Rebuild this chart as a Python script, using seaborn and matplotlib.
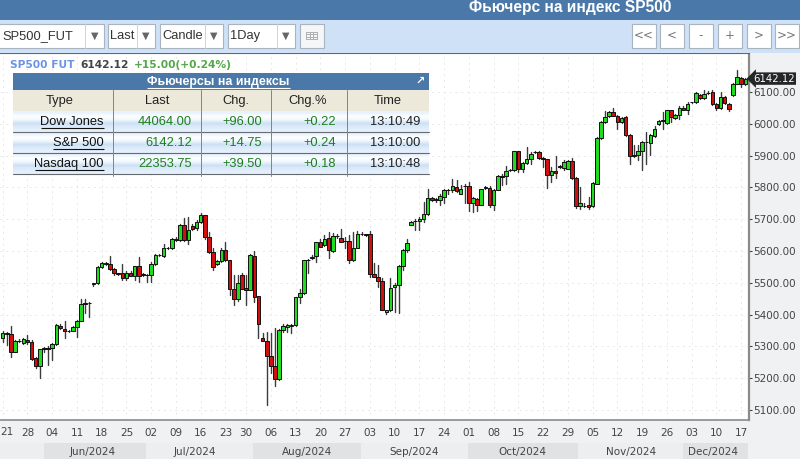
import numpy as np
import pandas as pd
import matplotlib
matplotlib.use("Agg")
import matplotlib.pyplot as plt
from matplotlib.patches import Rectangle
import seaborn as sns

# daily bars, one row of ten per line
opens = [5328, 5341, 5339, 5283, 5318, 5312, 5320, 5315, 5262, 5238,
         5294, 5295, 5294, 5307, 5365, 5356, 5350, 5349, 5362, 5381,
         5435, 5436, 5497, 5498, 5550, 5560, 5558, 5543, 5530, 5532,
         5516, 5531, 5521, 5552, 5529, 5526, 5526, 5558, 5587, 5585,
         5611, 5610, 5636, 5634, 5681, 5636, 5679, 5671, 5691, 5712,
         5644, 5597, 5558, 5569, 5602, 5571, 5482, 5449, 5524, 5484,
         5477, 5585, 5458, 5325, 5318, 5270, 5238, 5197, 5352, 5362,
         5364, 5366, 5454, 5468, 5572, 5578, 5584, 5627, 5618, 5641,
         5601, 5647, 5642, 5631, 5631, 5571, 5611, 5655, 5652, 5653,
         5529, 5519, 5506, 5408, 5414, 5486, 5493, 5552, 5602, 5683,
         5693, 5694, 5702, 5717, 5767, 5761, 5761, 5770, 5791, 5791,
         5801, 5780, 5803, 5804, 5751, 5763, 5746, 5799, 5799, 5744,
         5793, 5835, 5835, 5855, 5854, 5913, 5859, 5877, 5890, 5911,
         5911, 5893, 5888, 5840, 5850, 5866, 5861, 5859, 5882, 5830,
         5741, 5741, 5744, 5741, 5812, 5955, 6005, 6024, 6037, 6026,
         6005, 6021, 5966, 5900, 5901, 5914, 5942, 5939, 5961, 5998,
         6010, 6002, 6042, 6019, 6028, 6050, 6044, 6068, 6067, 6092,
         6082, 6097, 6099, 6061, 6050, 6084, 6063, 6089, 6126, 6143,
         6124]
highs = [5347, 5345, 5364, 5320, 5322, 5326, 5335, 5319, 5268, 5293,
         5299, 5300, 5310, 5370, 5370, 5380, 5353, 5365, 5384, 5450,
         5448, 5440, 5500, 5552, 5566, 5565, 5585, 5545, 5532, 5558,
         5537, 5536, 5553, 5581, 5532, 5529, 5566, 5591, 5590, 5623,
         5614, 5641, 5644, 5684, 5704, 5707, 5686, 5697, 5721, 5713,
         5660, 5608, 5571, 5610, 5627, 5573, 5526, 5524, 5532, 5526,
         5590, 5599, 5460, 5341, 5346, 5341, 5357, 5354, 5369, 5372,
         5372, 5456, 5482, 5573, 5575, 5589, 5629, 5639, 5650, 5660,
         5658, 5652, 5668, 5644, 5650, 5660, 5662, 5660, 5655, 5663,
         5561, 5555, 5514, 5416, 5514, 5498, 5555, 5605, 5639, 5694,
         5700, 5707, 5754, 5796, 5770, 5766, 5778, 5796, 5796, 5827,
         5822, 5807, 5810, 5817, 5770, 5768, 5796, 5804, 5804, 5796,
         5838, 5841, 5866, 5859, 5916, 5916, 5880, 5927, 5911, 5915,
         5913, 5895, 5890, 5864, 5899, 5871, 5885, 5885, 5893, 5833,
         5801, 5751, 5770, 5817, 5958, 6008, 6040, 6040, 6050, 6028,
         6021, 6024, 5969, 5932, 5932, 5946, 5974, 5968, 5992, 6011,
         6037, 6044, 6044, 6031, 6056, 6056, 6068, 6070, 6099, 6094,
         6107, 6104, 6107, 6066, 6099, 6086, 6066, 6129, 6168, 6147,
         6145]
lows = [5315, 5304, 5268, 5282, 5314, 5309, 5309, 5258, 5232, 5200,
        5283, 5243, 5257, 5305, 5355, 5325, 5346, 5347, 5330, 5379,
        5405, 5393, 5490, 5495, 5548, 5556, 5540, 5526, 5525, 5508,
        5508, 5520, 5508, 5501, 5520, 5501, 5501, 5555, 5584, 5581,
        5607, 5607, 5631, 5632, 5632, 5623, 5665, 5665, 5689, 5639,
        5594, 5540, 5555, 5566, 5569, 5463, 5430, 5443, 5480, 5430,
        5476, 5440, 5327, 5318, 5116, 5215, 5176, 5194, 5346, 5344,
        5341, 5364, 5435, 5466, 5532, 5576, 5564, 5612, 5616, 5579,
        5597, 5642, 5627, 5608, 5561, 5569, 5608, 5650, 5646, 5518,
        5517, 5487, 5414, 5402, 5412, 5409, 5406, 5540, 5597, 5681,
        5667, 5667, 5691, 5712, 5757, 5754, 5744, 5752, 5778, 5786,
        5786, 5780, 5752, 5726, 5723, 5726, 5744, 5794, 5739, 5728,
        5791, 5807, 5812, 5851, 5851, 5848, 5848, 5874, 5874, 5908,
        5890, 5864, 5798, 5817, 5831, 5861, 5854, 5857, 5827, 5736,
        5733, 5738, 5733, 5738, 5810, 5953, 6003, 6021, 6024, 5985,
        6003, 5961, 5872, 5897, 5885, 5854, 5875, 5901, 5958, 5997,
        5984, 5998, 6005, 6016, 6016, 6042, 6032, 6065, 6066, 6079,
        6079, 6095, 6058, 6042, 6045, 6063, 6040, 6086, 6125, 6115,
        6122]
closes = [5341, 5340, 5283, 5318, 5317, 5322, 5315, 5260, 5238, 5291,
          5293, 5293, 5307, 5367, 5357, 5349, 5349, 5362, 5381, 5432,
          5434, 5437, 5498, 5550, 5563, 5561, 5543, 5530, 5529, 5516,
          5531, 5521, 5552, 5521, 5524, 5525, 5560, 5587, 5586, 5611,
          5610, 5637, 5637, 5681, 5636, 5665, 5670, 5691, 5712, 5644,
          5597, 5550, 5569, 5602, 5571, 5482, 5449, 5498, 5482, 5477,
          5587, 5456, 5372, 5318, 5270, 5238, 5197, 5353, 5365, 5367,
          5366, 5454, 5468, 5571, 5573, 5580, 5627, 5613, 5639, 5602,
          5647, 5646, 5629, 5630, 5571, 5611, 5655, 5652, 5650, 5529,
          5519, 5506, 5416, 5415, 5485, 5493, 5552, 5602, 5625, 5691,
          5694, 5702, 5717, 5767, 5760, 5762, 5772, 5791, 5792, 5803,
          5789, 5796, 5804, 5752, 5767, 5746, 5794, 5800, 5744, 5793,
          5835, 5834, 5850, 5856, 5913, 5859, 5877, 5890, 5906, 5912,
          5893, 5888, 5838, 5850, 5845, 5865, 5880, 5882, 5830, 5741,
          5752, 5742, 5738, 5815, 5955, 6005, 6021, 6037, 6026, 6005,
          6019, 5966, 5899, 5901, 5916, 5943, 5943, 5964, 5984, 6008,
          6011, 6042, 6021, 6029, 6049, 6044, 6063, 6067, 6096, 6082,
          6094, 6098, 6061, 6050, 6084, 6066, 6047, 6126, 6147, 6126,
          6142.12]

week_labels = ["21", "28", "04", "11", "18", "25", "02", "09", "16", "23", "30",
               "06", "13", "20", "27", "03", "10", "17", "24", "01", "08", "15",
               "22", "29", "05", "12", "19", "26", "03", "10", "17"]
# trading days between two week ticks, one short week around Jul/30
bars_per_week = [6, 6, 6, 6, 6, 6, 6, 6, 6, 5, 6, 6, 6, 6, 6,
                 6, 6, 6, 6, 6, 6, 6, 6, 6, 6, 6, 6, 6, 6, 6]
price_ticks = [5100, 5200, 5300, 5400, 5500, 5600, 5700, 5800, 5900, 6000, 6100]

months = ["Jun/2024", "Jul/2024", "Aug/2024", "Sep/2024", "Oct/2024", "Nov/2024", "Dec/2024"]

table_types = ["Dow Jones", "S&P 500", "Nasdaq 100"]
table_last = ["44064.00", "6142.12", "22353.75"]
table_chg = ["+96.00", "+14.75", "+39.50"]
table_pct = ["+0.22", "+0.24", "+0.18"]
table_time = ["13:10:49", "13:10:00", "13:10:48"]
table_header = ["Type", "Last", "Chg.", "Chg.%", "Time"]

selectors = ["SP500_FUT", "Last", "Candle", "1Day"]
nav_buttons = ["<<", "<", "-", "+", ">", ">>"]

W, H = 800, 461
BLUE = "#4a78a8"
SANS = "Liberation Sans"


def build_frames():
    df = pd.DataFrame({"open": opens, "high": highs, "low": lows, "close": closes})
    df["bar"] = np.arange(len(df))
    df["body_low"] = df[["open", "close"]].min(axis=1)
    df["body"] = (df["close"] - df["open"]).abs()
    wicks = df.melt(id_vars="bar", value_vars=["low", "high"], value_name="price")
    return df, wicks


def draw_candles(ax, df, wicks):
    sns.lineplot(data=wicks, x="bar", y="price", units="bar", estimator=None, sort=False,
                 color="#3c3c3c", linewidth=1.0, ax=ax, zorder=2, legend=False)
    up = df[df["close"] >= df["open"]]
    down = df[df["close"] < df["open"]]
    for part, colour in [(up, "#1fdc1f"), (down, "#d01010")]:
        sns.barplot(data=part, x="bar", y="body", bottom=part["body_low"].values, native_scale=True,
                    errorbar=None, width=0.86, color=colour, saturation=1, edgecolor="#111111",
                    linewidth=0.7, ax=ax, zorder=3)


def style_axes(ax):
    week_ticks = np.concatenate([[0], np.cumsum(bars_per_week)])
    ax.set_xlim(-0.655, 180.9)
    ax.set_ylim(5068.6, 6222.6)
    ax.set_xticks(week_ticks)
    # the first label would lose its left half at the figure edge, see draw_months
    ax.set_xticklabels([""] + week_labels[1:])
    ax.set_yticks(price_ticks)
    ax.set_yticklabels([f"{p:.2f}" for p in price_ticks])
    ax.yaxis.tick_right()
    ax.set_xlabel("")
    ax.set_ylabel("")
    ax.grid(True, color="#e8e8e8", linestyle=(0, (2, 4)), linewidth=0.7)
    ax.set_axisbelow(True)
    ax.tick_params(axis="x", length=2.4, width=0.8, pad=3, labelsize=7.5, colors="#444444")
    ax.tick_params(axis="y", length=2.4, width=0.8, pad=0.6, labelsize=7.5, colors="#444444")
    ax.spines["left"].set_visible(False)
    ax.spines["top"].set_color("#666666")
    ax.spines["top"].set_linewidth(0.8)
    ax.spines["right"].set_color("#8a8a8a")
    ax.spines["right"].set_linewidth(1.6)
    ax.spines["bottom"].set_color("#8a8a8a")
    ax.spines["bottom"].set_linewidth(1.2)
    ax.annotate(f"{closes[-1]:.2f}", xy=(1.0, closes[-1]), xycoords=("axes fraction", "data"),
                xytext=(3, 0), textcoords="offset points", ha="left", va="center", fontsize=7.3,
                color="white", annotation_clip=False,
                bbox=dict(boxstyle="larrow,pad=0.12", fc="#262626", ec="none"))


def box(ov, x0, y0, x1, y1, fc, ec="none", lw=0.8, z=1):
    ov.add_patch(Rectangle((x0, y0), x1 - x0, y1 - y0, facecolor=fc, edgecolor=ec, linewidth=lw, zorder=z))


def underline(ov, txt, colour, dy=1.0):
    # width of the line follows the drawn text
    ext = txt.get_window_extent(ov.figure.canvas.get_renderer())
    y = H - ext.y0 + dy
    ov.plot([ext.x0, ext.x1], [y, y], color=colour, lw=0.8, zorder=6, solid_capstyle="butt")


def draw_toolbar(ov):
    box(ov, 0, 0, W, 20, BLUE)
    box(ov, 0, 20, W, 53, "#cfe1f6")
    ov.text(570, 7.5, "Фьючерс на индекс SP500", color="white", fontsize=11.2, fontweight="bold",
            family=SANS, ha="center", va="center", zorder=5)
    edges = [(-2, 85, 104), (108, 137, 155), (160, 205, 223), (228, 277, 295)]
    for label, (x0, split, x1) in zip(selectors, edges):
        box(ov, x0, 24, x1, 48, "white", ec="#a8b4c0")
        ov.plot([split, split], [24, 48], color="#d0d4d8", lw=0.7, zorder=2)
        ov.text(max(x0, 0) + 2, 36, label, fontsize=9.3, family=SANS, color="#333333", va="center", zorder=5)
        ov.text((split + x1) / 2, 35.5, "▼", fontsize=7, color="#666666", ha="center", va="center",
                family="DejaVu Sans", zorder=5)
    box(ov, 300, 24, 324, 48, "#f4f6f8", ec="#a8b4c0")
    for y in [32, 34.5, 37, 39.5]:
        ov.plot([306, 317], [y, y], color="#b0b0b0", lw=0.7, zorder=3)
    for x in [306, 309.5, 313, 317]:
        ov.plot([x, x], [32, 39.5], color="#b0b0b0", lw=0.7, zorder=3)
    lefts = [632, 660, 689, 718, 747, 775]
    for label, x0 in zip(nav_buttons, lefts):
        box(ov, x0, 24, x0 + 24, 48, "white", ec="#a8b4c0")
        ov.text(x0 + 12, 35.5, label, fontsize=8.6, family="DejaVu Sans", color="#777777",
                ha="center", va="center", zorder=5)


def draw_quote(ov):
    ov.text(10, 65, "SP500 FUT", fontsize=7.7, fontweight="bold", color="#6c93e6", va="center",
            family="DejaVu Sans", zorder=5)
    ov.text(80, 65, f"{closes[-1]:.2f}", fontsize=7.7, fontweight="bold", color="#444444", va="center",
            family="DejaVu Sans", zorder=5)
    ov.text(134, 65, "+15.00(+0.24%)", fontsize=7.7, fontweight="bold", color="#55a84a", va="center",
            family="DejaVu Sans", zorder=5)


def draw_table(ov):
    left, right = 13, 429
    cols = [113, 201, 271, 347]
    box(ov, left, 73, right, 90.5, BLUE, z=4)
    title = ov.text(218.5, 81.5, "Фьючерсы на индексы", color="white", fontsize=8.9, fontweight="bold",
                    family=SANS, ha="center", va="center", zorder=6)
    underline(ov, title, "white", dy=0.5)
    ov.text(420.5, 81, "↗", color="white", fontsize=8, fontweight="bold", family="DejaVu Sans",
            ha="center", va="center", zorder=6)
    box(ov, left, 90.5, right, 111, "#ece9da", z=4)
    for label, xc in zip(table_header, [60, 157, 236, 308, 388]):
        ov.text(xc, 100.5, label, fontsize=9.3, family=SANS, color="#222222", ha="center", va="center", zorder=6)
    band = np.array([[0.91, 0.95, 0.99], [0.99, 1.0, 1.0], [0.95, 0.97, 0.995],
                     [0.80, 0.88, 0.96], [0.86, 0.92, 0.98], [0.90, 0.94, 0.985]])
    for i, top in enumerate([111, 132, 153]):
        ov.imshow(band[:, None, :], extent=(left, right, top + 21, top), aspect="auto",
                  interpolation="bilinear", zorder=4)
        y = top + 10.5
        name = ov.text(104, y, table_types[i], fontsize=9.3, family=SANS, color="#111111", ha="right",
                       va="center", zorder=6)
        underline(ov, name, "#111111", dy=0.3)
        ov.text(192, y, table_last[i], fontsize=9.3, family=SANS, color="#1e7e1e", ha="right", va="center", zorder=6)
        ov.text(262, y, table_chg[i], fontsize=9.3, family=SANS, color="#1e7e1e", ha="right", va="center", zorder=6)
        ov.text(336, y, table_pct[i], fontsize=9.3, family=SANS, color="#1e7e1e", ha="right", va="center", zorder=6)
        ov.text(420, y, table_time[i], fontsize=9.3, family=SANS, color="#222222", ha="right", va="center", zorder=6)
        ov.plot([left, right], [top + 21, top + 21], color="#666b70", lw=0.8, zorder=5)
    for x in cols:
        ov.plot([x, x], [90.5, 176], color="#808488", lw=0.7, zorder=5)


def draw_months(ov):
    spans = [(44, 146), (146, 253), (253, 361), (361, 468), (468, 578), (578, 683), (683, 748)]
    centres = [93, 195, 307, 414, 522, 631, 713]
    ov.text(0.5, 432, week_labels[0], fontsize=7.5, color="#444444", family="DejaVu Sans",
            ha="left", va="center", zorder=5)
    box(ov, 0, 443, 44, 459, "#eceef0")
    for i, (label, (x0, x1), xc) in enumerate(zip(months, spans, centres)):
        box(ov, x0, 443, x1, 459, "#e0e2e4" if i % 2 == 0 else "#eceef0")
        ov.text(xc, 451.5, label, fontsize=7.5, color="#444444", family="DejaVu Sans",
                ha="center", va="center", zorder=5)
    box(ov, 0, 459, W, H, "white")


def main():
    sns.set_theme(style="white")
    plt.rcParams["font.family"] = ["DejaVu Sans"]

    df, wicks = build_frames()

    fig = plt.figure(figsize=(W / 100, H / 100), dpi=100, facecolor="#eff1f3")
    ax = fig.add_axes([0, 1 - 420 / H, 749 / W, (420 - 53) / H])
    draw_candles(ax, df, wicks)
    style_axes(ax)

    # everything around the chart goes on a pixel-sized overlay
    ov = fig.add_axes([0, 0, 1, 1], zorder=5)
    ov.patch.set_alpha(0)
    ov.set_axis_off()
    ov.set_xlim(0, W)
    ov.set_ylim(H, 0)
    ov.set_autoscale_on(False)
    draw_toolbar(ov)
    draw_quote(ov)
    draw_table(ov)
    draw_months(ov)

    fig.savefig("out.png", dpi=100)


if __name__ == "__main__":
    main()
